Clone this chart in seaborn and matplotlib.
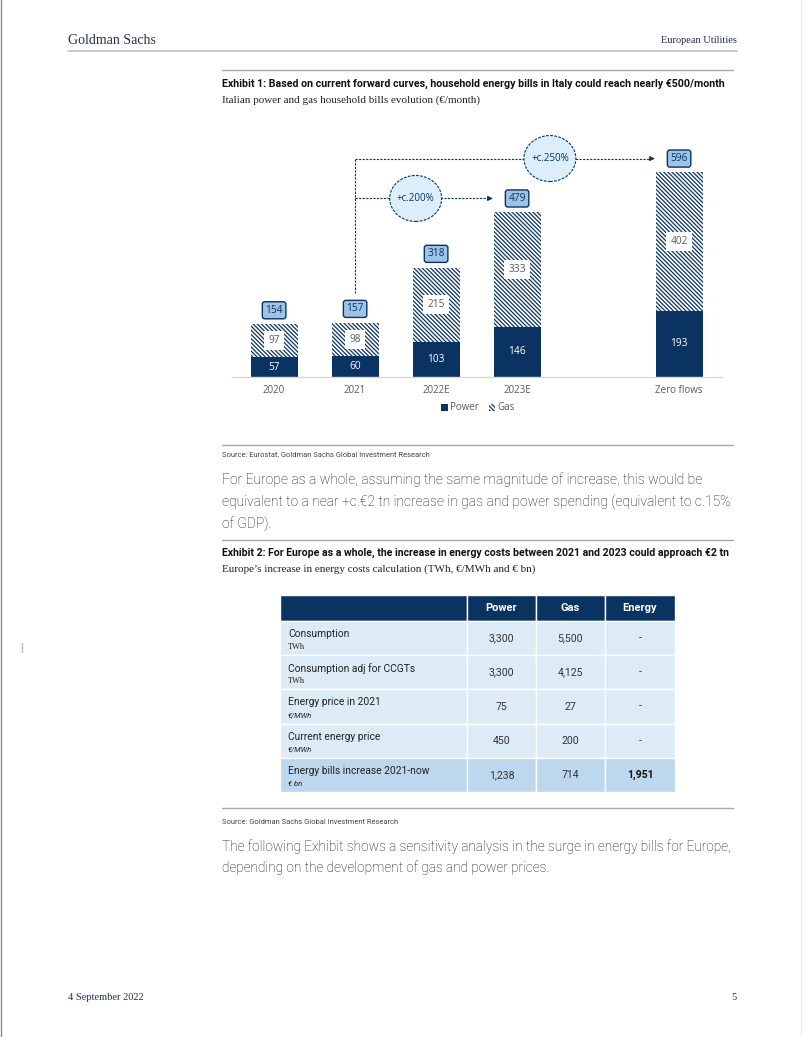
"""
Goldman Sachs page: Italian household bills (Exhibit 1) and Europe energy cost table (Exhibit 2).
"""
import numpy as np
import pandas as pd
import matplotlib
matplotlib.use('Agg')
import matplotlib.pyplot as plt
from matplotlib.patches import Patch, Ellipse, Rectangle
from matplotlib.lines import Line2D
import seaborn as sns

W, H = 802, 1037

# Exhibit 1 data
categories = ['2020', '2021', '2022E', '2023E', ' ', 'Zero flows']
years = ['2020', '2021', '2022E', '2023E', 'Zero flows']
power = [57, 60, 103, 146, 193]
gas = [97, 98, 215, 333, 402]
totals = [154, 157, 318, 479, 596]
arrow_labels = ['+c.200%', '+c.250%']
arrow_targets = ['2023E', 'Zero flows']

# Exhibit 2 data
table_cols = ['Power', 'Gas', 'Energy']
table_rows = ['Consumption', 'Consumption adj for CCGTs', 'Energy price in 2021',
              'Current energy price', 'Energy bills increase 2021-now']
table_units = ['TWh', 'TWh', '€/MWh', '€/MWh', '€ bn']
table_values = [['3,300', '5,500', '-'],
                ['3,300', '4,125', '-'],
                ['75', '27', '-'],
                ['450', '200', '-'],
                ['1,238', '714', '1,951']]

NAVY = '#0B3361'
BOX = '#9DC3E6'
GREY = '#595959'
TXT = '#111111'
HATCH = '\\' * 8
SERIF = ['Liberation Serif', 'DejaVu Serif']
BODY = ['Roboto', 'DejaVu Sans']
CHART = ['Open Sans', 'DejaVu Sans']

sns.set_theme(style='white')
plt.rcParams['font.family'] = BODY
plt.rcParams['hatch.color'] = NAVY
plt.rcParams['hatch.linewidth'] = 0.9

fig = plt.figure(figsize=(W / 100, H / 100), dpi=100)


def fx(x):
    return x / W


def fy(y):
    return 1 - y / H


def ftext(x, y, s, **kw):
    kw.setdefault('va', 'center')
    fig.text(fx(x), fy(y), s, **kw)


def hline(y, x0, x1, color='#A6A6A6', lw=1.0):
    fig.add_artist(Line2D([fx(x0), fx(x1)], [fy(y), fy(y)], color=color, lw=lw))


# page frame, header, footer
fig.add_artist(Line2D([fx(0.5), fx(0.5)], [0, 1], color='#8C8C8C', lw=1))
fig.add_artist(Line2D([fx(801.5), fx(801.5)], [0, 1], color='#8C8C8C', lw=1))
fig.add_artist(Line2D([fx(22), fx(22)], [fy(643), fy(652)], color='#BBBBBB', lw=1))
ftext(68, 40, 'Goldman Sachs', family=SERIF, fontsize=10, color='#1F2F4F')
ftext(737, 40, 'European Utilities', family=SERIF, fontsize=7.5, color='#1F2F4F', ha='right')
hline(51, 68, 737, color='#BFBFBF', lw=1.2)
ftext(68, 997, '4 September 2022', family=SERIF, fontsize=7.5, color='#1F2F4F')
ftext(737, 997, '5', family=SERIF, fontsize=7.5, color='#1F2F4F', ha='right')

# ---------------- Exhibit 1 ----------------
hline(70, 222, 733)
ftext(222, 84, 'Exhibit 1: Based on current forward curves, household energy bills in Italy could reach nearly €500/month',
      fontsize=7.7, weight='bold', color='#111111')
ftext(222, 100, 'Italian power and gas household bills evolution (€/month)',
      family=SERIF, fontsize=8, color='#222222')

px_per_unit = 0.344
ax = fig.add_axes([fx(232), fy(377), fx(722) - fx(232), (377 - 130) / H])
df = pd.DataFrame({'year': years, 'power': power, 'gas': gas})
df['stack'] = df['power'] + df['gas']

sns.barplot(data=df, x='year', y='stack', order=categories, color='white', saturation=1,
            edgecolor=NAVY, linewidth=0, hatch=HATCH, width=0.58, errorbar=None, ax=ax)
sns.barplot(data=df, x='year', y='power', order=categories, color=NAVY, saturation=1,
            linewidth=0, width=0.58, errorbar=None, ax=ax)

ax.set_xlim(-0.52, 5.53)
ax.set_ylim(0, (377 - 130) / px_per_unit)
ax.set_xlabel('')
ax.set_ylabel('')
ax.set_yticks([])
for s in ['top', 'left', 'right']:
    ax.spines[s].set_visible(False)
ax.spines['bottom'].set_color('#D9D9D9')
ax.spines['bottom'].set_linewidth(1)
ax.tick_params(axis='x', length=0, pad=6, labelsize=7, colors=GREY)
for t in ax.get_xticklabels():
    t.set_family(CHART)

box_off = 40
for i, yr in enumerate(years):
    pos = categories.index(yr)
    p, g, tot = power[i], gas[i], totals[i]
    ax.text(pos, p / 2, str(p), ha='center', va='center', fontsize=7.3, color='white', family=CHART)
    ax.text(pos, p + g / 2, str(g), ha='center', va='center', fontsize=7.3, color=GREY, family=CHART,
            bbox=dict(boxstyle='square,pad=0.4', fc='white', ec='none'))
    ax.text(pos, p + g + box_off, str(tot), ha='center', va='center', fontsize=7.3, color=NAVY,
            family=CHART, bbox=dict(boxstyle='round,pad=0.3,rounding_size=0.25', fc=BOX, ec=NAVY, lw=1))

# growth arrows from 2021
start = categories.index('2021')
dash = (0, (2, 1.2))
tops = []
for lab, tgt in zip(arrow_labels, arrow_targets):
    ti = years.index(tgt)
    yv = power[ti] + gas[ti] + box_off
    tops.append(yv)
    tip = categories.index(tgt) - 0.3
    ax.plot([start, tip - 0.05], [yv, yv], color=NAVY, lw=0.8, ls=dash)
    ax.annotate('', xy=(tip, yv), xytext=(tip - 0.06, yv),
                arrowprops=dict(arrowstyle='-|>', color=NAVY, lw=0.8, mutation_scale=7))
    cx = start + (tip - start) * (0.44 if tgt == '2023E' else 0.65)
    ax.add_patch(Ellipse((cx, yv), width=52 / 81, height=46 / px_per_unit, fc='#DDEEFB',
                         ec=NAVY, lw=0.8, ls=(0, (2.5, 1.2)), zorder=5))
    ax.text(cx, yv, lab, ha='center', va='center', fontsize=7, color=NAVY, family=CHART, zorder=6)
ax.plot([start, start], [power[1] + gas[1] + box_off + 47, max(tops)], color=NAVY, lw=0.8, ls=dash)

handles = [Patch(fc=NAVY, ec=NAVY, lw=0, label='Power'),
           Patch(fc='white', ec=NAVY, lw=0, hatch=HATCH, label='Gas')]
leg = ax.legend(handles=handles, loc='center', bbox_to_anchor=(fx(478), fy(408)),
                bbox_transform=fig.transFigure, ncol=2, frameon=False,
                handlelength=0.7, handleheight=0.7, handletextpad=0.2, columnspacing=1.0,
                prop={'family': CHART, 'size': 7})
for t in leg.get_texts():
    t.set_color(GREY)

hline(445, 222, 733)
ftext(222, 455, 'Source: Eurostat, Goldman Sachs Global Investment Research',
      fontsize=5.4, color='#444444')

para1 = ['For Europe as a whole, assuming the same magnitude of increase, this would be',
         'equivalent to a near +c.€2 tn increase in gas and power spending (equivalent to c.15%',
         'of GDP).']
for k, line in enumerate(para1):
    ftext(222, 480 + 22 * k, line, fontsize=10, weight='light', color=TXT)

# ---------------- Exhibit 2 ----------------
hline(540, 222, 733)
ftext(222, 553, 'Exhibit 2: For Europe as a whole, the increase in energy costs between 2021 and 2023 could approach €2 tn',
      fontsize=7.6, weight='bold', color='#111111')
ftext(222, 569, 'Europe’s increase in energy costs calculation (TWh, €/MWh and € bn)',
      family=SERIF, fontsize=8, color='#222222')

tx = [280, 467, 536, 605, 675]
ty = [595, 621] + [621 + 34.2 * (r + 1) for r in range(len(table_rows))]
axt = fig.add_axes([fx(tx[0]), fy(ty[-1]), fx(tx[-1]) - fx(tx[0]), (ty[-1] - ty[0]) / H])
axt.set_xlim(tx[0], tx[-1])
axt.set_ylim(ty[-1], ty[0])
axt.axis('off')

for c in range(4):
    axt.add_patch(Rectangle((tx[c], ty[0]), tx[c + 1] - tx[c], ty[1] - ty[0],
                            fc=NAVY, ec='white', lw=1))
for j, col in enumerate(table_cols):
    axt.text((tx[j + 1] + tx[j + 2]) / 2, (ty[0] + ty[1]) / 2, col, ha='center', va='center',
             fontsize=8, weight='bold', color='white', family=BODY)

for r, (name, unit, vals) in enumerate(zip(table_rows, table_units, table_values)):
    y0, y1 = ty[r + 1], ty[r + 2]
    last = r == len(table_rows) - 1
    fc = '#BDD7EE' if last else '#DDEBF7'
    for c in range(4):
        axt.add_patch(Rectangle((tx[c], y0), tx[c + 1] - tx[c], y1 - y0, fc=fc, ec='white', lw=1))
    axt.text(tx[0] + 8, y0 + 13, name, ha='left', va='center', fontsize=7.4, color='#222222', family=BODY)
    if unit == 'TWh':
        axt.text(tx[0] + 8, y0 + 26, unit, ha='left', va='center', fontsize=6, color='#222222', family=SERIF)
    else:
        axt.text(tx[0] + 8, y0 + 26, unit, ha='left', va='center', fontsize=5.5, color='#222222',
                 family=BODY, style='italic')
    for j, v in enumerate(vals):
        bold = last and j == 2
        axt.text((tx[j + 1] + tx[j + 2]) / 2, (y0 + y1) / 2, v, ha='center', va='center',
                 fontsize=7.6, color='#111111' if bold else '#333333',
                 weight='bold' if bold else 'normal', family=BODY)

hline(808, 222, 733)
ftext(222, 823, 'Source: Goldman Sachs Global Investment Research',
      fontsize=5.4, color='#444444')

para2 = ['The following Exhibit shows a sensitivity analysis in the surge in energy bills for Europe,',
         'depending on the development of gas and power prices.']
for k, line in enumerate(para2):
    ftext(222, 847 + 21 * k, line, fontsize=9.85, weight='light', color=TXT)

fig.savefig('out.png', dpi=100)
